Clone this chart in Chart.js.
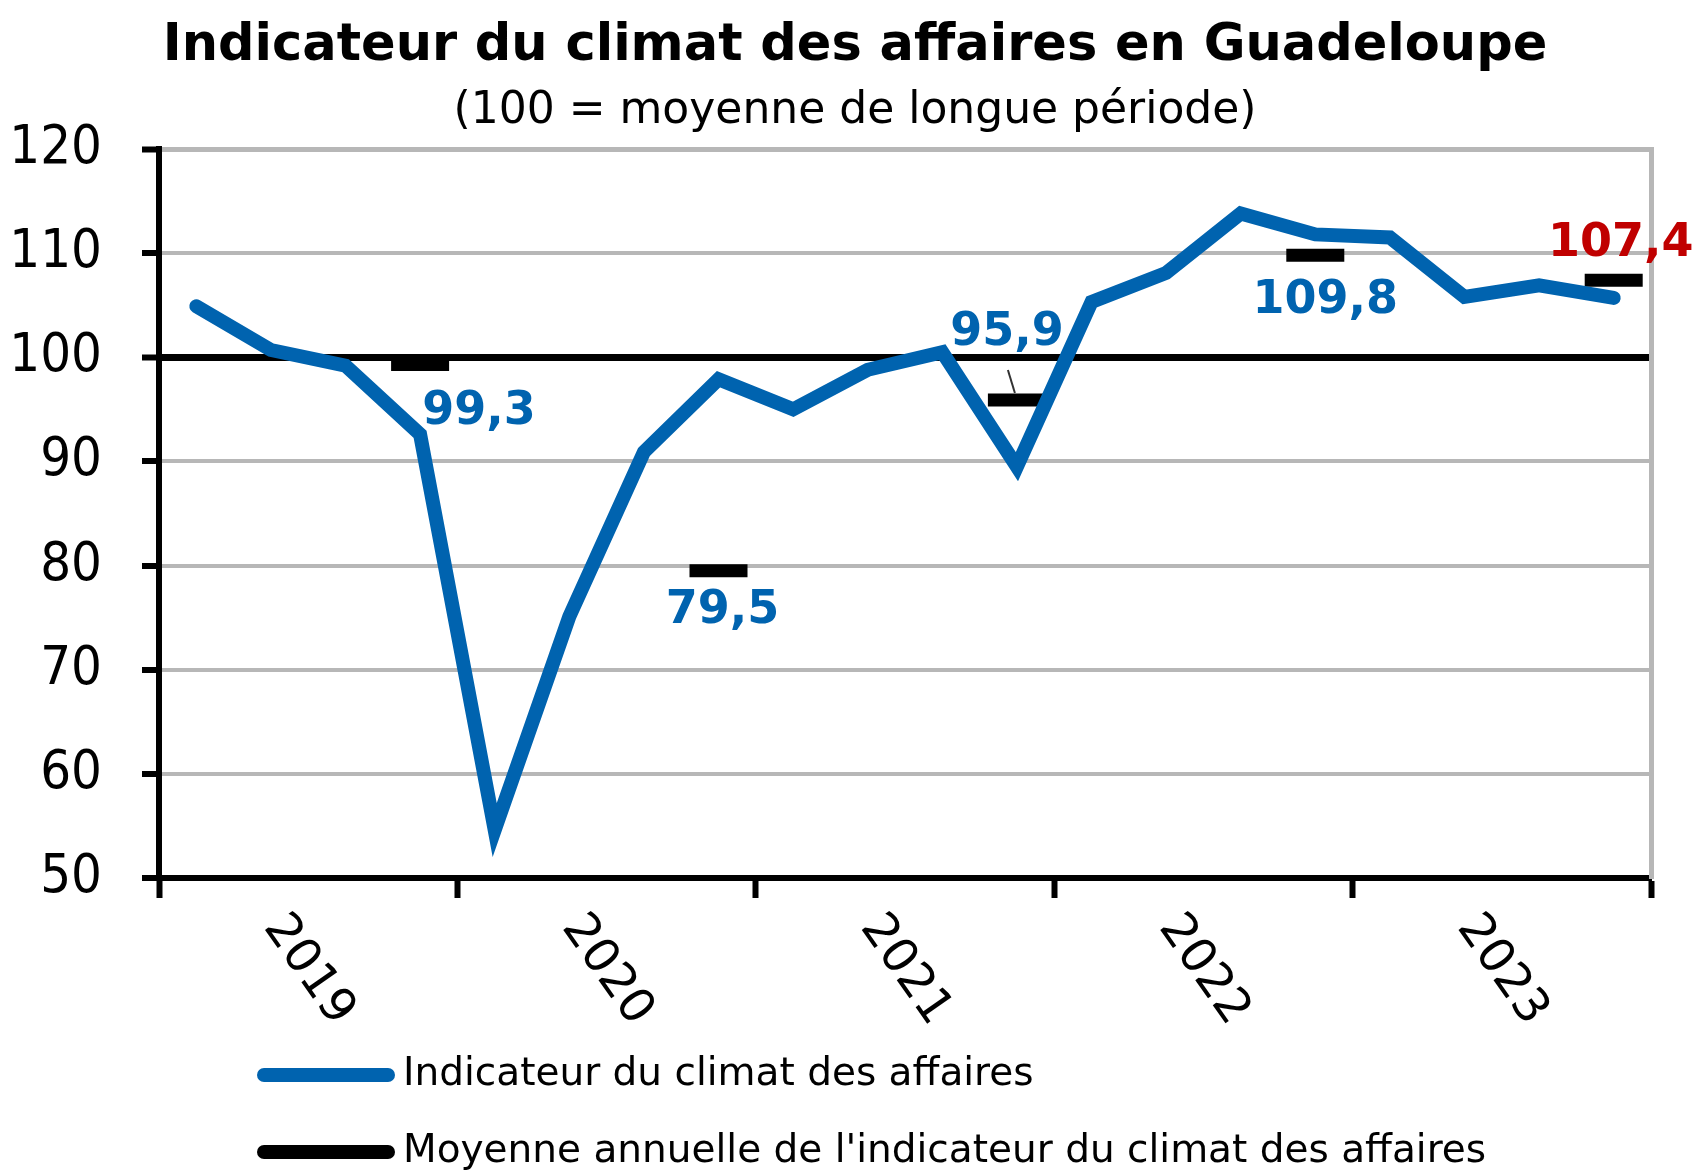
<!DOCTYPE html>
<html>
<head>
<meta charset="utf-8">
<script src="https://cdn.jsdelivr.net/npm/chart.js@4.4.1/dist/chart.umd.min.js"></script>
<style>
  html, body { margin: 0; padding: 0; background: #fff; }
  #wrap { width: 1698px; height: 1172px; }
</style>
</head>
<body>
<div id="wrap"><canvas id="chart"></canvas></div>
<script>
const quarters = [
    'T1 2019', 'T2 2019', 'T3 2019', 'T4 2019',
    'T1 2020', 'T2 2020', 'T3 2020', 'T4 2020',
    'T1 2021', 'T2 2021', 'T3 2021', 'T4 2021',
    'T1 2022', 'T2 2022', 'T3 2022', 'T4 2022',
    'T1 2023', 'T2 2023', 'T3 2023', 'T4 2023'
];
const years = ['2019', '2020', '2021', '2022', '2023'];

const indicator = [
    104.9, 100.7, 99.2, 92.6,
    54.6, 75.1, 90.9, 97.9,
    95.0, 98.8, 100.5, 89.5,
    105.3, 108.1, 113.8, 111.8,
    111.5, 105.8, 106.9, 105.7
];
const annualMeans = [99.3, 79.5, 95.9, 109.8, 107.4];

const yTicks = [50, 60, 70, 80, 90, 100, 110, 120];

// label styling, one entry per annual mean
const labelColors = ['#0063AF', '#0063AF', '#0063AF', '#0063AF', '#C00000'];
const labelOffsets = [[59, 47], [4, 40], [-10, -67], [10, 46], [7, -36]];

const BLUE = '#0063AF';
const GRID = '#B7B7B7';

// mean of each year sits on its 4th quarter
const meanSeries = quarters.map((q, i) => (i % 4 === 3 ? annualMeans[(i - 3) / 4] : null));

const overlay = {
    id: 'overlay',
    afterDatasetsDraw(chart) {
        const {ctx, scales: {x, y}} = chart;
        ctx.save();
        ctx.font = 'bold 46px "DejaVu Sans"';
        ctx.textAlign = 'center';
        ctx.textBaseline = 'middle';
        annualMeans.forEach((v, k) => {
            const px = x.getPixelForValue(k * 4 + 3);
            const py = y.getPixelForValue(v);
            ctx.fillStyle = labelColors[k];
            ctx.fillText(v.toFixed(1).replace('.', ','), px + labelOffsets[k][0], py + labelOffsets[k][1]);
            if (k === 2) {
                // small leader line for 95,9
                ctx.strokeStyle = '#333';
                ctx.lineWidth = 2;
                ctx.beginPath();
                ctx.moveTo(px - 9, py - 30);
                ctx.lineTo(px - 2, py - 7);
                ctx.stroke();
            }
        });
        ctx.restore();
    },
    afterDraw(chart) {
        const {ctx, scales: {x}, chartArea} = chart;
        ctx.save();
        // rotated year labels
        ctx.font = '48px "DejaVu Sans"';
        ctx.fillStyle = '#000';
        ctx.textAlign = 'center';
        ctx.textBaseline = 'middle';
        years.forEach((yr, k) => {
            const cx = (x.getPixelForValue(k * 4) + x.getPixelForValue(k * 4 + 3)) / 2;
            ctx.save();
            ctx.translate(cx, chartArea.bottom + 92);
            ctx.rotate(55 * Math.PI / 180);
            ctx.fillText(yr, 0, 0);
            ctx.restore();
        });
        // legend
        ctx.font = '39px "DejaVu Sans"';
        ctx.textAlign = 'left';
        const rows = [1075, 1152];
        chart.data.datasets.forEach((ds, i) => {
            ctx.strokeStyle = ds.borderColor;
            ctx.lineWidth = 14;
            ctx.lineCap = 'round';
            ctx.beginPath();
            ctx.moveTo(264, rows[i]);
            ctx.lineTo(388, rows[i]);
            ctx.stroke();
            ctx.fillStyle = '#000';
            ctx.fillText(ds.label, 403, rows[i]);
        });
        ctx.restore();
    }
};

new Chart(document.getElementById('chart'), {
    type: 'line',
    data: {
        labels: quarters,
        datasets: [
            {
                label: 'Indicateur du climat des affaires',
                data: indicator,
                borderColor: BLUE,
                backgroundColor: BLUE,
                borderWidth: 14,
                borderJoinStyle: 'miter',
                borderCapStyle: 'round',
                pointRadius: 0,
                tension: 0
            },
            {
                label: "Moyenne annuelle de l'indicateur du climat des affaires",
                data: meanSeries,
                borderColor: '#000',
                backgroundColor: '#000',
                showLine: false,
                pointStyle: 'line',
                pointRadius: 29,
                pointBorderWidth: 13,
                pointHoverRadius: 29
            }
        ]
    },
    options: {
        responsive: true,
        maintainAspectRatio: false,
        animation: false,
        layout: {padding: {left: 12, right: 0, top: 0, bottom: 274}},
        plugins: {
            legend: {display: false},
            tooltip: {enabled: false},
            title: {
                display: true,
                text: 'Indicateur du climat des affaires en Guadeloupe',
                color: '#000',
                font: {family: '"DejaVu Sans"', weight: 'bold', size: 51},
                padding: {top: 16, bottom: 0}
            },
            subtitle: {
                display: true,
                text: '(100 = moyenne de longue période)',
                color: '#000',
                font: {family: '"DejaVu Sans"', size: 44},
                padding: {top: 8, bottom: 11}
            }
        },
        scales: {
            x: {
                offset: true,
                grid: {
                    offset: true,
                    drawOnChartArea: false,
                    tickLength: 20,
                    tickWidth: 6,
                    tickColor: ctx => (ctx.index === undefined || ctx.index % 4 === 0 ? '#000' : 'rgba(0,0,0,0)')
                },
                border: {display: true, color: '#000', width: 6},
                ticks: {display: false}
            },
            y: {
                min: 50,
                max: 120,
                afterBuildTicks: scale => { scale.ticks = yTicks.map(v => ({value: v})); },
                afterFit: scale => { scale.width = 147; },
                grid: {
                    color: ctx => {
                        const v = ctx.tick && ctx.tick.value;
                        if (v === 100) return '#000';
                        if (v === 50) return 'rgba(0,0,0,0)';
                        return GRID;
                    },
                    lineWidth: ctx => {
                        const v = ctx.tick && ctx.tick.value;
                        if (v === 100) return 7;
                        if (v === 120) return 5;
                        return 4;
                    },
                    tickColor: '#000',
                    tickLength: 17,
                    tickWidth: 6
                },
                border: {display: true, color: '#000', width: 6},
                ticks: {
                    color: '#000',
                    padding: 40,
                    font: {family: '"DejaVu Sans Condensed"', size: 54}
                }
            },
            y2: {
                position: 'right',
                min: 50,
                max: 120,
                afterFit: scale => { scale.width = 47; },
                grid: {display: false},
                border: {display: true, color: GRID, width: 5},
                ticks: {display: false}
            }
        }
    },
    plugins: [overlay]
});
</script>
</body>
</html>
